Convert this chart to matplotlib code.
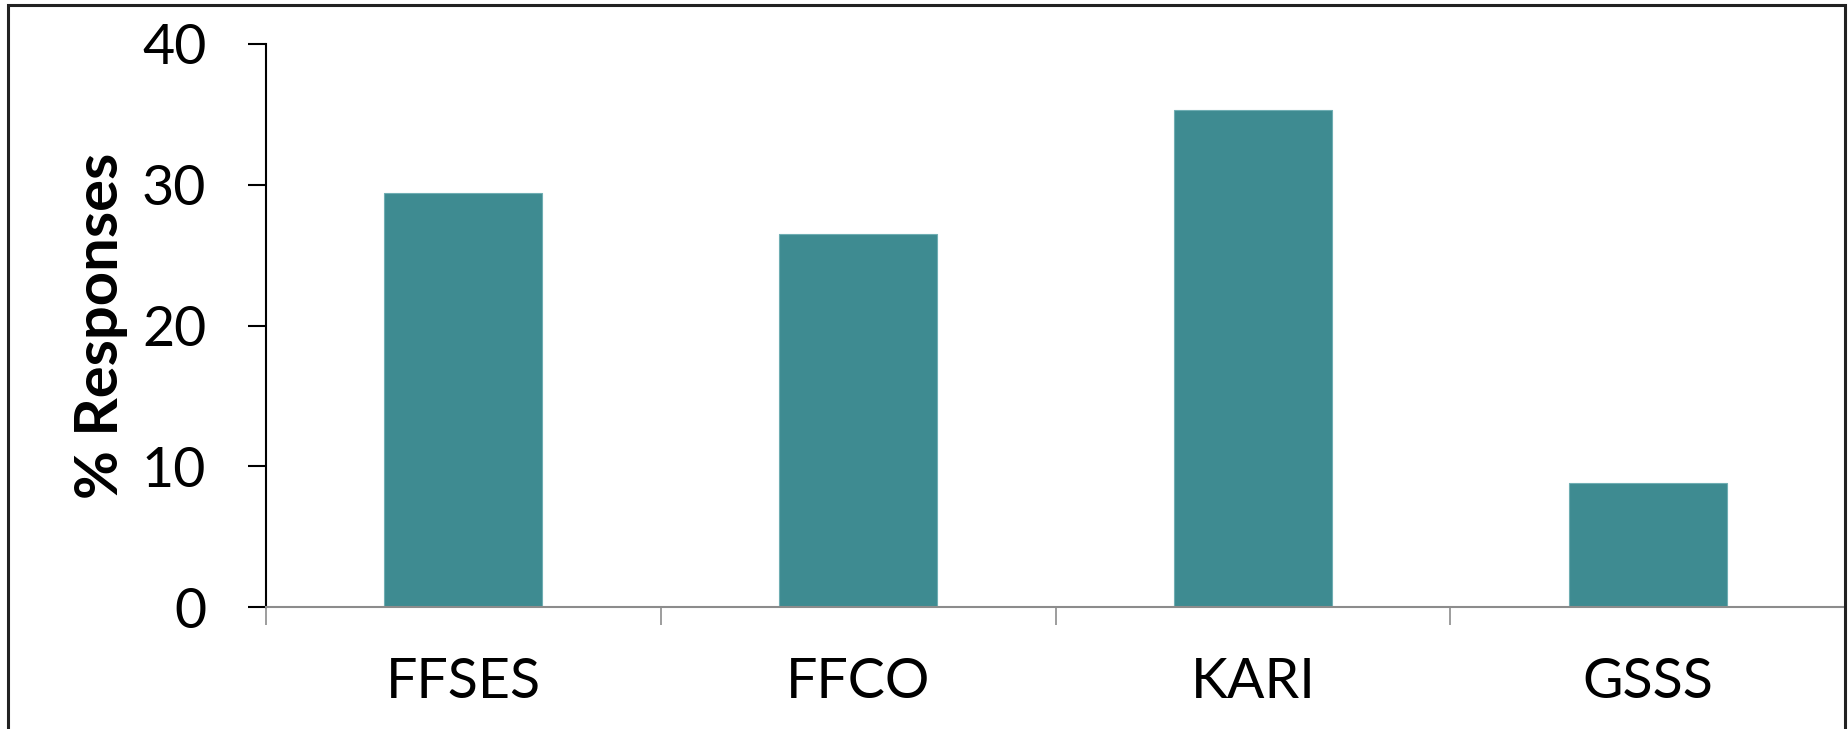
import matplotlib.pyplot as plt
from matplotlib.patches import Rectangle
import numpy as np

# data
categories = ['FFSES', 'FFCO', 'KARI', 'GSSS']
responses = [29.4, 26.5, 35.3, 8.8]
yticks = [0, 10, 20, 30, 40]

plt.rcParams['font.family'] = ['Lato', 'DejaVu Sans']

fig = plt.figure(figsize=(18.49, 7.29), dpi=100)
ax = fig.add_axes([266 / 1849, 1 - 607 / 729, (1845 - 266) / 1849, (607 - 44) / 729])

x = np.arange(len(categories))
ax.bar(x, responses, width=0.4, color='#3E8B91', edgecolor='#6FAEB3', linewidth=0.8, zorder=2)

ax.set_xlim(-0.5, len(categories) - 0.5)
ax.set_ylim(0, 40)
ax.set_yticks(yticks)

# category boundary ticks (major), labels on minor ticks
ax.set_xticks(np.arange(-0.5, len(categories), 1.0))
ax.set_xticklabels([])
ax.set_xticks(x, minor=True)
ax.set_xticklabels(categories, minor=True)
ax.tick_params(axis='x', which='major', direction='out', length=13, width=1.2, color='#8C8C8C')
ax.tick_params(axis='x', which='minor', length=0, pad=36, labelsize=40)
ax.tick_params(axis='y', direction='out', length=13, width=1.5, color='black', pad=30, labelsize=40)

for s in ['top', 'right']:
    ax.spines[s].set_visible(False)
ax.spines['left'].set_linewidth(1.5)
ax.spines['bottom'].set_color('#8C8C8C')
ax.spines['bottom'].set_linewidth(1.5)

ax.set_ylabel('% Responses', fontsize=43, fontweight='bold', labelpad=10)

# outer chart frame
frame = Rectangle((8 / 1849, -0.05), (1845 - 8) / 1849, 1.05 - 5 / 729,
                  transform=fig.transFigure, fill=False, edgecolor='#222222', linewidth=2.2)
fig.patches.append(frame)

fig.savefig('out.png', dpi=100)
